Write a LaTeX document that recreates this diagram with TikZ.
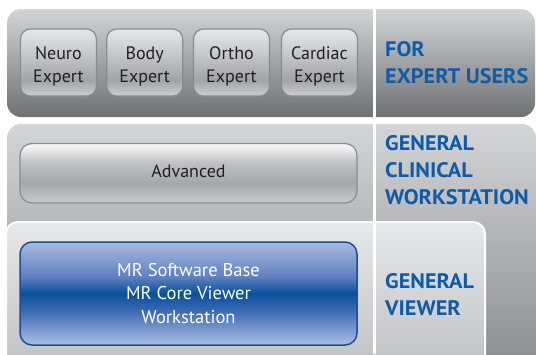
\documentclass[tikz,border=0pt]{standalone}
\usepackage{fontspec}
\setmainfont{PT Sans}
\newfontfamily\labelfont[FakeStretch=1.06]{PT Sans}
\definecolor{pOneT}{HTML}{D3D4D6}
\definecolor{pOneB}{HTML}{6F7074}
\definecolor{pTwoT}{HTML}{D4D5D7}
\definecolor{pTwoB}{HTML}{88898D}
\definecolor{pThrT}{HTML}{E7E8EA}
\definecolor{pThrB}{HTML}{BDBEC1}
\definecolor{eT}{HTML}{E6E7E9}
\definecolor{eU}{HTML}{C4C5C8}
\definecolor{eM}{HTML}{A2A3A6}
\definecolor{eB}{HTML}{CDCED0}
\definecolor{aT}{HTML}{F3F3F4}
\definecolor{aU}{HTML}{C2C3C5}
\definecolor{aM}{HTML}{A6A7AA}
\definecolor{aB}{HTML}{C9CACC}
\definecolor{bT}{HTML}{A9BBE0}
\definecolor{bU}{HTML}{5E80C0}
\definecolor{bM}{HTML}{08509D}
\definecolor{bL}{HTML}{3A68B2}
\definecolor{bB}{HTML}{ADBFE3}
\definecolor{boxline}{HTML}{8A8B8E}
\definecolor{blueline}{HTML}{1B4F96}
\definecolor{labelblue}{HTML}{0F5BA8}
\definecolor{boxtext}{HTML}{231F20}
\pgfdeclareverticalshading{expertglass}{100bp}{color(0bp)=(eB); color(25bp)=(eB); color(37bp)=(eM); color(55bp)=(eU); color(75bp)=(eT); color(100bp)=(eT)}
\pgfdeclareverticalshading{advglass}{100bp}{color(0bp)=(aB); color(25bp)=(aB); color(42bp)=(aM); color(60bp)=(aU); color(72bp)=(aT); color(75bp)=(aT); color(100bp)=(aT)}
\pgfdeclareverticalshading{blueglass}{100bp}{color(0bp)=(bB); color(25bp)=(bB); color(42bp)=(bL); color(50bp)=(bM); color(58bp)=(bU); color(75bp)=(bT); color(100bp)=(bT)}
\newcommand{\topstrut}{\rule{0pt}{20.1pt}}
\newcommand{\lowstrut}{\rule[-4.6pt]{0pt}{4.6pt}}
\tikzset{
  glassbox/.style={draw=boxline, line width=1.2pt, rounded corners=10pt, align=center,
    text=boxtext, font=\fontsize{18}{22.5}\selectfont, inner sep=0pt},
  expertbox/.style={glassbox, shading=expertglass, minimum width=76pt, minimum height=67pt},
  advbox/.style={glassbox, shading=advglass, rounded corners=12pt, minimum width=337pt, minimum height=59.5pt},
  basebox/.style={draw=blueline, line width=1.5pt, rounded corners=12pt, shading=blueglass,
    align=center, text=white, font=\fontsize{18.5}{23.3}\selectfont, inner sep=0pt,
    minimum width=337pt, minimum height=103pt},
  tierlabel/.style={anchor=west, align=left, text=labelblue, inner sep=0pt,
    font=\labelfont\fontsize{21}{27}\selectfont\bfseries},
}
\begin{document}
\begin{tikzpicture}[x=1pt,y=-1pt]
\useasboundingbox (0,0) rectangle (536,354);
% panels
\path[top color=pOneT, bottom color=pOneB, rounded corners=14pt] (7,9) rectangle (535,117);
\path[top color=pTwoT, bottom color=pTwoB, rounded corners=14pt] (7,124) rectangle (536,380);
\path[top color=pThrT, bottom color=pThrB, draw=white, line width=2pt, rounded corners=12pt] (6,222) rectangle (485,380);
% separator
\coordinate (sepT) at (374,9);
\coordinate (sepB) at (374,354);
\draw[white, line width=3pt] (sepT) -- (sepB);
% expert boxes
\node[expertbox] (neuro) at (58.4,62.5) {\topstrut Neuro\\Expert};
\node[expertbox] (body) at (144.7,62.5) {\topstrut Body\\Expert};
\node[expertbox] (ortho) at (231.5,62.5) {\topstrut Ortho\\Expert};
\node[expertbox] (cardiac) at (319.5,62.5) {\topstrut Cardiac\\Expert};
% advanced
\node[advbox] (adv) at (188.5,173.25) {\lowstrut Advanced};
% base
\node[basebox] (base) at (188.5,293.5) {MR Software Base\\MR Core Viewer\\Workstation};
% labels
\node[tierlabel] (lexpert) at (385,62.5) {FOR\\EXPERT USERS};
\node[tierlabel] (lclin) at (385,169.8) {GENERAL\\CLINICAL\\WORKSTATION};
\node[tierlabel] (lview) at (385,295) {GENERAL\\VIEWER};
\end{tikzpicture}
\end{document}
